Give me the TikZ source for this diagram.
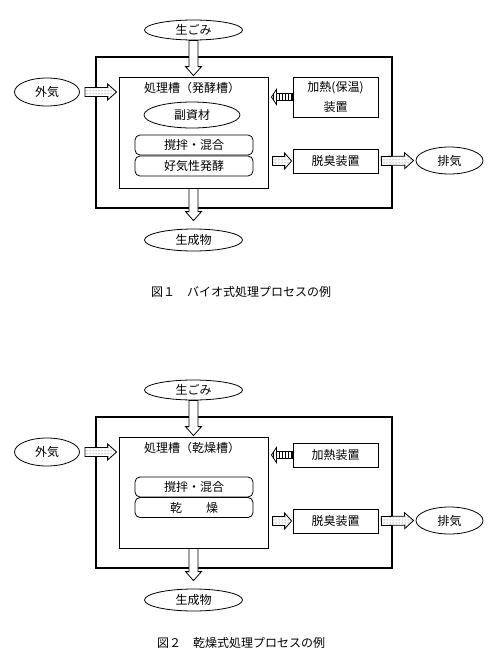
\documentclass[tikz,border=0pt]{standalone}
\usepackage{fontspec}
\setmainfont{Noto Sans CJK JP}
\usetikzlibrary{shapes.geometric,calc,patterns}
\newcommand\barrow[6]{%
  \coordinate (ban) at ($(#2)!#5!(#1)$);
  \path[#6] ($(#1)!#3!90:(#2)$) -- ($(ban)!#3!90:(#2)$) -- ($(ban)!#4!90:(#2)$) -- (#2) -- ($(ban)!#4!-90:(#2)$) -- ($(ban)!#3!-90:(#2)$) -- ($(#1)!#3!-90:(#2)$) -- cycle;}
\begin{document}
\begin{tikzpicture}[x=1pt,y=-1pt,
  every node/.style={font=\fontsize{12}{14}\selectfont, inner sep=0pt},
  oval/.style={draw, ellipse, line width=0.8pt},
  box/.style={draw, rectangle, line width=0.8pt},
  bigbox/.style={draw, rectangle, line width=1.2pt},
  rbox/.style={draw, rectangle, rounded corners=5pt, line width=0.8pt, minimum width=118pt, minimum height=20pt},
  dotarrow/.style={preaction={fill=white}, pattern=dots, pattern color=black!70, draw, line width=0.8pt},
  stripearrow/.style={preaction={fill=white}, pattern=vertical lines, draw, line width=0.8pt},
  plainarrow/.style={fill=white, draw, line width=0.8pt},
  caption/.style={font=\fontsize{12}{14}\selectfont}]
\useasboundingbox (0,0) rectangle (500,667);
% ---------------- Figure 1 ----------------
\node[bigbox, minimum width=296pt, minimum height=151pt] (a-outer) at (244,132.5) {};
\node[box, minimum width=149pt, minimum height=111pt] (a-inner) at (193.5,132.5) {};
\node (a-title) at (192,88) {処理槽（発酵槽）};
\node[oval, minimum width=96pt, minimum height=26pt] (a-fuku) at (192,115) {副資材};
\node[rbox] (a-mix) at (194,145) {撹拌・混合};
\node[rbox] (a-ferm) at (194,166) {好気性発酵};
\node[oval, minimum width=98pt, minimum height=20pt] (a-gomi) at (193.5,30) {生ごみ};
\node[oval, minimum width=65pt, minimum height=28pt] (a-gaiki) at (47,92) {外気};
\node[box, minimum width=85pt, minimum height=40pt, align=center, font=\fontsize{12}{20}\selectfont] (a-heat) at (335.5,97) {加熱(保温)\\装置};
\node[box, minimum width=85pt, minimum height=24pt] (a-deo) at (335.5,161) {脱臭装置};
\node[oval, minimum width=67pt, minimum height=27pt] (a-haiki) at (449.5,160.5) {排気};
\node[oval, minimum width=98pt, minimum height=22pt] (a-prod) at (193.5,240) {生成物};
\node[caption] (a-cap) at (241,292) {図１　バイオ式処理プロセスの例};
\coordinate (a-g1) at ($(a-gaiki.east)+(5,0)$);
\coordinate (a-g2) at ($(a-inner.west |- a-gaiki.east)+(-2,0)$);
\barrow{a-g1}{a-g2}{4.5pt}{8pt}{9pt}{dotarrow}
\coordinate (a-d2) at ($(a-gomi.south |- a-inner.north)+(0,-1)$);
\barrow{a-gomi.south}{a-d2}{4.5pt}{8pt}{9pt}{plainarrow}
\coordinate (a-p2) at ($(a-inner.south |- a-prod.north)+(0,-8)$);
\barrow{a-inner.south}{a-p2}{4.5pt}{8pt}{9pt}{plainarrow}
\coordinate (a-h2) at ($(a-inner.east |- a-heat.west)+(3,0)$);
\barrow{a-heat.west}{a-h2}{3.5pt}{7.5pt}{5pt}{stripearrow}
\coordinate (a-e1) at ($(a-inner.east |- a-deo.west)+(4,0)$);
\coordinate (a-e2) at ($(a-deo.west)+(-1,0)$);
\barrow{a-e1}{a-e2}{4.5pt}{8pt}{7pt}{dotarrow}
\coordinate (a-x1) at ($(a-deo.east)+(3,0)$);
\coordinate (a-x2) at ($(a-haiki.west)+(-2,0)$);
\barrow{a-x1}{a-x2}{4.5pt}{8pt}{9pt}{dotarrow}
% ---------------- Figure 2 ----------------
\node[bigbox, minimum width=296pt, minimum height=151pt] (b-outer) at (244,492.5) {};
\node[box, minimum width=149pt, minimum height=111pt] (b-inner) at (193.5,492.5) {};
\node (b-title) at (192,448) {処理槽（乾燥槽）};
\node[rbox] (b-mix) at (194,487) {撹拌・混合};
\node[rbox] (b-dry) at (194,507.5) {乾　　燥};
\node[oval, minimum width=98pt, minimum height=20pt] (b-gomi) at (193.5,390) {生ごみ};
\node[oval, minimum width=65pt, minimum height=28pt] (b-gaiki) at (47,452) {外気};
\node[box, minimum width=85pt, minimum height=24pt] (b-heat) at (335.5,455) {加熱装置};
\node[box, minimum width=85pt, minimum height=24pt] (b-deo) at (335.5,521) {脱臭装置};
\node[oval, minimum width=67pt, minimum height=27pt] (b-haiki) at (449.5,520.5) {排気};
\node[oval, minimum width=98pt, minimum height=22pt] (b-prod) at (193.5,600) {生成物};
\node[caption] (b-cap) at (241,643) {図２　乾燥式処理プロセスの例};
\coordinate (b-g1) at ($(b-gaiki.east)+(5,0)$);
\coordinate (b-g2) at ($(b-inner.west |- b-gaiki.east)+(-2,0)$);
\barrow{b-g1}{b-g2}{4.5pt}{8pt}{9pt}{dotarrow}
\coordinate (b-d2) at ($(b-gomi.south |- b-inner.north)+(0,-1)$);
\barrow{b-gomi.south}{b-d2}{4.5pt}{8pt}{9pt}{plainarrow}
\coordinate (b-p2) at ($(b-inner.south |- b-prod.north)+(0,-8)$);
\barrow{b-inner.south}{b-p2}{4.5pt}{8pt}{9pt}{plainarrow}
\coordinate (b-h2) at ($(b-inner.east |- b-heat.west)+(3,0)$);
\barrow{b-heat.west}{b-h2}{3.5pt}{7.5pt}{5pt}{stripearrow}
\coordinate (b-e1) at ($(b-inner.east |- b-deo.west)+(4,0)$);
\coordinate (b-e2) at ($(b-deo.west)+(-1,0)$);
\barrow{b-e1}{b-e2}{4.5pt}{8pt}{7pt}{dotarrow}
\coordinate (b-x1) at ($(b-deo.east)+(3,0)$);
\coordinate (b-x2) at ($(b-haiki.west)+(-2,0)$);
\barrow{b-x1}{b-x2}{4.5pt}{8pt}{9pt}{dotarrow}
\end{tikzpicture}
\end{document}
